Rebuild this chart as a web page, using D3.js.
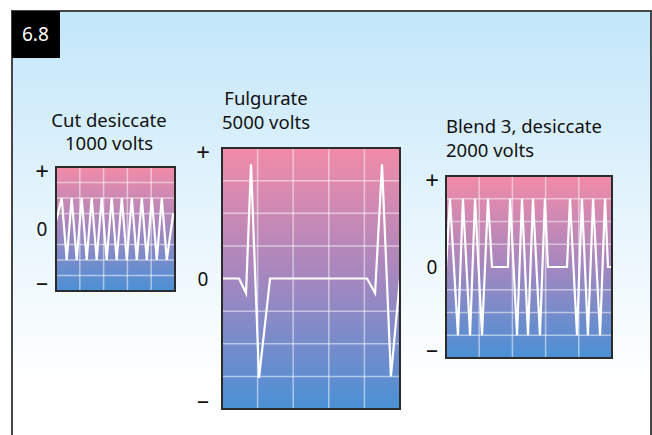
<!DOCTYPE html>
<html>
<head>
<meta charset="utf-8">
<script src="https://cdn.jsdelivr.net/npm/d3@7"></script>
<style>
  body { margin: 0; background: #fff; }
  svg { display: block; }
  text { font-family: "Noto Sans", "Open Sans", sans-serif; }
</style>
</head>
<body>
<svg id="fig" width="652" height="435"></svg>
<script>
// Waveform samples: time (0–100 across the trace window) and relative voltage (−4…+4)
const cutTime = [0, 4.8, 9.0, 13.2, 17.4, 21.6, 25.8, 30.0, 34.2, 38.4, 42.6, 46.8, 51.0, 55.3, 59.5, 63.7, 67.9, 72.1, 76.3, 80.5, 84.7, 88.9, 93.1, 98.5];
const cutVolt = [0.5, 2, -2, 2, -2, 2, -2, 2, -2, 2, -2, 2, -2, 2, -2, 2, -2, 2, -2, 2, -2, 2, -2, 1];

const fulgTime = [0, 9.6, 13.5, 16.3, 20.8, 27, 81.5, 86, 89.9, 94.9, 100];
const fulgVolt = [0, 0, -0.45, 3.5, -3.05, 0, 0, -0.45, 3.5, -3, 0];

const blendTime = [0, 2.4, 7.2, 10.2, 14.5, 17.5, 21.7, 25.3, 27.7, 37.3, 38.6, 42.8, 45.8, 49.4, 52.4, 56.6, 59.6, 61.4, 72.9, 74.7, 78.9, 81.9, 85.5, 88.6, 92.8, 95.8, 97.6, 100];
const blendVolt = [0, 3, -3, 3, -3, 3, -3, 3, 0, 0, 3, -3, 3, -3, 3, -3, 3, 0, 0, 3, -3, 3, -3, 3, -3, 3, 0, 0];

// Panel titles and polarity tick labels
const titleLines = [
  ["Cut desiccate", "1000 volts"],
  ["Fulgurate", "5000 volts"],
  ["Blend 3, desiccate", "2000 volts"]
];
const polarityTicks = [4, 0, -4];
const polarityLabels = ["+", "0", "\u2013"];
const figureLabel = "6.8";

// Grid: 5 columns × 8 rows per panel
const gridTimes = [20, 40, 60, 80];
const gridVolts = [-3, -2, -1, 1, 2, 3];

const svg = d3.select("#fig");
const defs = svg.append("defs");

const bgGrad = defs.append("linearGradient").attr("id", "bg").attr("x1", 0).attr("y1", 0).attr("x2", 0).attr("y2", 1);
bgGrad.append("stop").attr("offset", "0%").attr("stop-color", "#c2e6fa");
bgGrad.append("stop").attr("offset", "45%").attr("stop-color", "#e5f4fc");
bgGrad.append("stop").attr("offset", "85%").attr("stop-color", "#ffffff");

const scopeGrad = defs.append("linearGradient").attr("id", "scope").attr("x1", 0).attr("y1", 0).attr("x2", 0).attr("y2", 1);
scopeGrad.append("stop").attr("offset", "0%").attr("stop-color", "#f28ba8");
scopeGrad.append("stop").attr("offset", "50%").attr("stop-color", "#a487bf");
scopeGrad.append("stop").attr("offset", "100%").attr("stop-color", "#4a90d5");

// Frame
svg.append("rect")
  .attr("x", 12).attr("y", 11).attr("width", 639).attr("height", 440)
  .attr("fill", "url(#bg)")
  .attr("stroke", "#454545").attr("stroke-width", 2);

svg.append("rect").attr("x", 12).attr("y", 11).attr("width", 48).attr("height", 47).attr("fill", "#000");
svg.append("text").attr("x", 22).attr("y", 41)
  .attr("fill", "#fff").attr("font-size", 19).text(figureLabel);

const panels = [
  { time: cutTime, volt: cutVolt, box: { x: 56, y: 167, w: 119, h: 124 },
    title: { x: 109, y: 127, dy: 23, anchor: "middle" }, labelX: 42 },
  { time: fulgTime, volt: fulgVolt, box: { x: 222, y: 148, w: 178, h: 261 },
    title: { x: 266, y: 105, dy: 24, anchor: "middle" }, labelX: 203 },
  { time: blendTime, volt: blendVolt, box: { x: 446, y: 176, w: 166, h: 182 },
    title: { x: 446, y: 133, dy: 24, anchor: "start" }, labelX: 432 }
];

panels.forEach((p, i) => {
  const b = p.box;
  const x = d3.scaleLinear().domain([0, 100]).range([b.x, b.x + b.w]);
  const y = d3.scaleLinear().domain([-4, 4]).range([b.y + b.h, b.y]);
  const g = svg.append("g");

  const clipId = "clip" + i;
  defs.append("clipPath").attr("id", clipId)
    .append("rect").attr("x", b.x).attr("y", b.y).attr("width", b.w).attr("height", b.h);

  g.append("rect").attr("x", b.x).attr("y", b.y).attr("width", b.w).attr("height", b.h)
    .attr("fill", "url(#scope)");

  g.selectAll(".vg").data(gridTimes).join("line")
    .attr("x1", d => x(d)).attr("x2", d => x(d))
    .attr("y1", b.y).attr("y2", b.y + b.h)
    .attr("stroke", "#fff").attr("stroke-opacity", 0.5).attr("stroke-width", 1.5);
  g.selectAll(".hg").data(gridVolts).join("line")
    .attr("y1", d => y(d)).attr("y2", d => y(d))
    .attr("x1", b.x).attr("x2", b.x + b.w)
    .attr("stroke", "#fff").attr("stroke-opacity", 0.5).attr("stroke-width", 1.5);

  const line = d3.line().x((d, k) => x(p.time[k])).y(d => y(d));
  g.append("path").datum(p.volt)
    .attr("d", line)
    .attr("clip-path", `url(#${clipId})`)
    .attr("fill", "none").attr("stroke", "#fff").attr("stroke-width", 2.2)
    .attr("stroke-linejoin", "miter").attr("stroke-miterlimit", 6);

  g.append("rect").attr("x", b.x).attr("y", b.y).attr("width", b.w).attr("height", b.h)
    .attr("fill", "none").attr("stroke", "#2b2b2b").attr("stroke-width", 2);

  // Polarity labels on a tick-less axis
  const axis = d3.axisLeft(y).tickValues(polarityTicks)
    .tickFormat((d, k) => polarityLabels[k]).tickSize(0).tickPadding(0);
  const ax = svg.append("g").attr("transform", `translate(${p.labelX},0)`).call(axis);
  ax.select(".domain").remove();
  ax.attr("font-size", null).attr("font-family", null);
  ax.selectAll("text")
    .attr("text-anchor", "middle").attr("x", 0)
    .style("font-size", (d, k) => k === 1 ? "19px" : "24px").attr("fill", "#111")
    .attr("dy", (d, k) => k === 0 ? "0.5em" : (k === 2 ? "-0.05em" : "0.35em"));

  const t = svg.append("text").attr("text-anchor", p.title.anchor)
    .style("font-size", "18.5px").attr("fill", "#111");
  titleLines[i].forEach((s, k) => {
    t.append("tspan").attr("x", p.title.x).attr("y", p.title.y + k * p.title.dy).text(s);
  });
});
</script>
</body>
</html>
